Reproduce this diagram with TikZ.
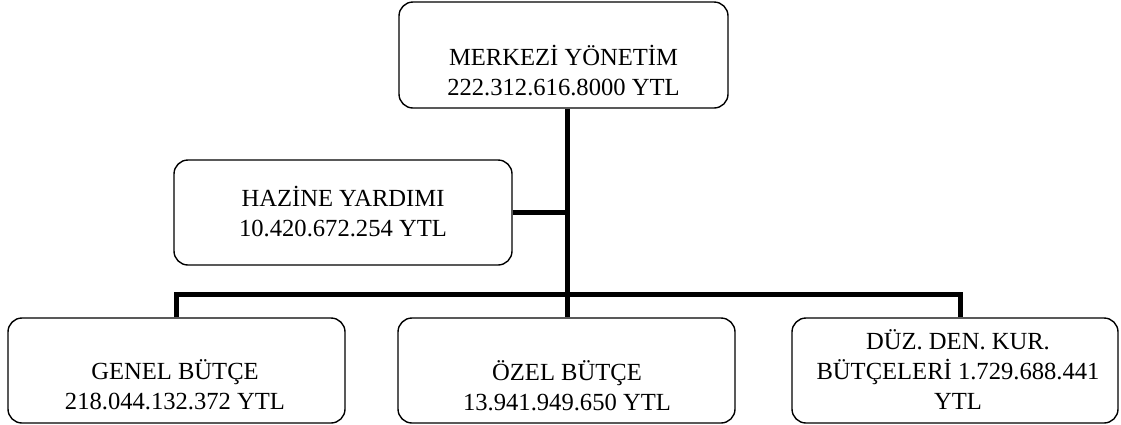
\documentclass[tikz,border=0pt]{standalone}
\usepackage{fontspec}
\setmainfont{Liberation Serif}
\begin{document}
\begin{tikzpicture}[x=1pt,y=-1pt,
  box/.style={draw, rounded corners=14pt, line width=1.4pt, minimum width=#1, minimum height=105pt, inner sep=0pt},
  lbl/.style={align=center, font=\fontsize{24.6}{30}\selectfont, inner sep=0pt},
  conn/.style={line width=5pt, line join=miter}]
\useasboundingbox (0,0) rectangle (1121,424);
% boxes
\node[box=329pt, minimum height=106pt] (top) at (563.5,55) {};
\node[box=338pt] (haz) at (343,212.5) {};
\node[box=337pt] (gen) at (176.5,370.5) {};
\node[box=337pt] (oz) at (566.5,370.5) {};
\node[box=326pt] (duz) at (955,370.5) {};
% labels
\node[lbl] (topt) at (563.5,71) {MERKEZİ YÖNETİM\\222.312.616.8000 YTL};
\node[lbl] (hazt) at (343,212) {HAZİNE YARDIMI\\10.420.672.254 YTL};
\node[lbl] (gent) at (175,385) {GENEL BÜTÇE\\218.044.132.372 YTL};
\node[lbl] (ozt) at (567,386) {ÖZEL BÜTÇE\\13.941.949.650 YTL};
\node[lbl] (duzt) at (958,370) {DÜZ. DEN. KUR.\\BÜTÇELERİ 1.729.688.441\\YTL};
% connectors
\coordinate (tx) at (567,0);
\coordinate (bl) at (176,294);
\coordinate (br) at (960,294);
\draw[conn] (top.south -| tx) -- (oz.north -| tx);
\draw[conn] (haz.east) -- (haz.east -| tx);
\draw[conn] (gen.north -| bl) -- (bl) -- (br) -- (duz.north -| br);
\end{tikzpicture}
\end{document}
